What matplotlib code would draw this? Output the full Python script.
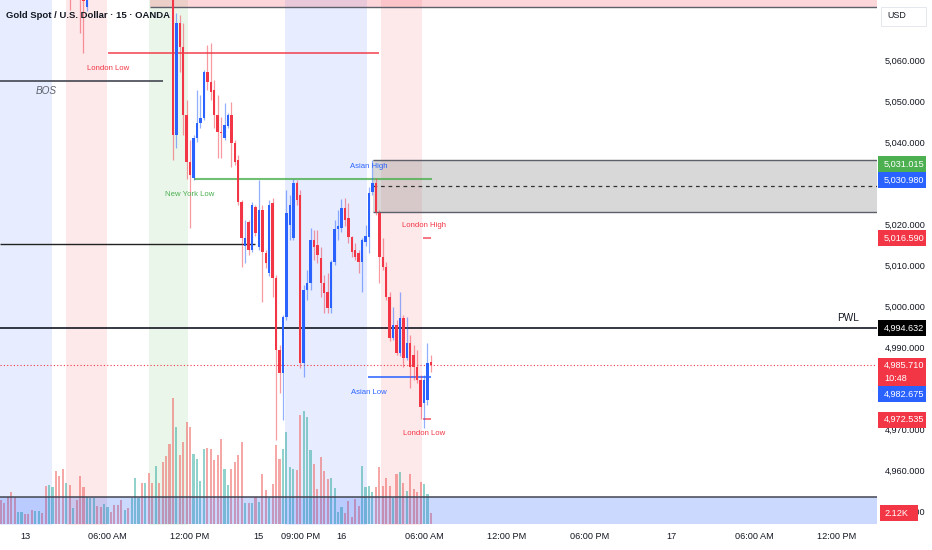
import matplotlib
matplotlib.use("Agg")
import matplotlib.pyplot as plt
import numpy as np
from matplotlib.patches import Rectangle
from matplotlib.transforms import blended_transform_factory

plt.rcParams['font.family'] = ['Liberation Sans', 'DejaVu Sans']

# Données (XAU/USD, 15 min, barres 0..125)
opens = [
    5088, 5086, 5085, 5083, 5082, 5080, 5083, 5084, 5082, 5081,
    5080, 5083, 5085, 5083, 5080, 5084, 5086, 5081, 5078, 5077,
    5080, 5076, 5078, 5077, 5075.5, 5072.9, 5079, 5082, 5084, 5083,
    5082, 5084, 5087, 5085, 5083, 5081, 5079, 5083, 5081, 5085,
    5091, 5092, 5088, 5094, 5090, 5087, 5094, 5091, 5088, 5084,
    5079, 5041.7, 5069.0, 5063.2, 5046.6, 5035.1, 5031.2, 5041.0, 5044.6, 5045.9,
    5057.1, 5054.6, 5052.7, 5046.6, 5042.4, 5041.0, 5043.9, 5046.6, 5039.8, 5035.6,
    5025.4, 5014.6, 5020.5, 5013.6, 5024.1, 5014.4, 5023.4, 5012.9, 5008.0, 5025.1,
    5006.8, 4989.3, 4983.7, 4997.3, 5019.8, 5016.6, 5030.0, 5027.1, 4986.1, 5003.9,
    5005.6, 5016.1, 5014.9, 5011.7, 5005.6, 5003.4, 4999.5, 5010.7, 5018.8, 5019.0,
    5023.9, 5021.5, 5016.8, 5013.6, 5012.9, 5010.7, 5015.6, 5016.8, 5027.8, 5030.0,
    5022.7, 5011.9, 5009.5, 5002.2, 4992.2, 4995.4, 4988.5, 4997.1, 4987.3, 4991.0,
    4988.0, 4985.1, 4982.0, 4976.3, 4977.1, 4986.3]
highs = [
    5091, 5089, 5087, 5086, 5085, 5084, 5086, 5086, 5085, 5084,
    5084, 5086, 5087, 5086, 5085, 5088, 5088, 5083, 5081, 5082,
    5082, 5080, 5080, 5079, 5077, 5081, 5083, 5085, 5087, 5086,
    5085, 5088, 5089, 5087, 5085, 5083, 5084, 5085, 5086, 5092,
    5094, 5093, 5095, 5096, 5092, 5095, 5096, 5093, 5090, 5086,
    5081, 5071.5, 5071.0, 5069.0, 5050.2, 5040.5, 5041.7, 5052.7, 5051.5, 5057.6,
    5063.7, 5064.1, 5055.1, 5051.5, 5046.1, 5049.5, 5047.1, 5049.7, 5040.5, 5036.8,
    5025.9, 5021.0, 5021.0, 5025.4, 5024.6, 5030.7, 5024.6, 5013.6, 5025.9, 5026.3,
    5007.6, 4990.5, 4997.8, 5028.3, 5027.1, 5030.98, 5030.7, 5028.3, 5005.1, 5008.8,
    5019.0, 5018.5, 5018.5, 5014.4, 5007.6, 5008.0, 5011.2, 5021.0, 5023.4, 5026.1,
    5026.3, 5025.1, 5017.1, 5015.4, 5013.6, 5016.6, 5019.8, 5029.0, 5035.6, 5031.2,
    5023.4, 5016.6, 5010.7, 5003.4, 4999.8, 4996.6, 5003.4, 4997.8, 4997.3, 4992.9,
    4990.5, 4989.3, 4983.2, 4983.2, 4991.0, 4988.0]
lows = [
    5084, 5083, 5081, 5080, 5079, 5079, 5081, 5081, 5080, 5079,
    5079, 5081, 5082, 5079, 5079, 5082, 5080, 5077, 5076, 5076,
    5072.2, 5075.5, 5076, 5066.6, 5061.7, 5072, 5077, 5080, 5082, 5081,
    5080, 5083, 5084, 5082, 5080, 5078, 5078, 5080, 5080, 5084,
    5088, 5087, 5087, 5089, 5086, 5086, 5090, 5086, 5082, 5077,
    5035.6, 5038.5, 5057.1, 5041.7, 5031.0, 5019.0, 5030.7, 5040.0, 5043.4, 5045.4,
    5052.7, 5050.2, 5043.4, 5036.1, 5036.1, 5040.5, 5043.4, 5033.9, 5034.4, 5024.6,
    5009.5, 5010.5, 5012.4, 5013.2, 5017.1, 5013.6, 5001.0, 5009.3, 5007.3, 5002.2,
    4967.3, 4978.8, 4972.2, 4996.6, 5016.1, 5016.1, 5024.6, 4984.9, 4982.7, 5001.5,
    5003.9, 5011.2, 5010.5, 5002.2, 4998.3, 4998.3, 4998.3, 5010.0, 5016.1, 5018.0,
    5019.5, 5015.4, 5011.9, 5011.2, 5008.0, 5003.4, 5014.6, 5012.9, 5027.1, 5022.2,
    5005.6, 5008.8, 5001.5, 4991.5, 4991.7, 4988.0, 4987.8, 4985.1, 4986.8, 4980.0,
    4982.0, 4981.2, 4972.5, 4970.2, 4975.9, 4983.9]
closes = [
    5086, 5085, 5083, 5082, 5080, 5083, 5084, 5082, 5081, 5080,
    5083, 5085, 5083, 5080, 5084, 5086, 5081, 5078, 5077, 5080,
    5076, 5078, 5077, 5075.5, 5074.5, 5079, 5082, 5084, 5083, 5082,
    5084, 5087, 5085, 5083, 5081, 5079, 5083, 5081, 5085, 5091,
    5092, 5088, 5094, 5090, 5087, 5094, 5091, 5088, 5084, 5079,
    5041.7, 5069.0, 5063.2, 5046.6, 5035.1, 5031.9, 5041.0, 5044.6, 5045.9, 5057.1,
    5054.6, 5052.2, 5046.6, 5042.4, 5042.2, 5044.1, 5046.6, 5039.8, 5035.1, 5025.4,
    5016.6, 5016.6, 5013.6, 5024.6, 5017.8, 5023.4, 5013.2, 5010.5, 5024.6, 5006.8,
    4989.3, 4983.7, 4997.3, 5022.7, 5024.6, 5030.0, 5025.9, 4986.1, 5003.9, 5005.6,
    5016.1, 5014.4, 5012.4, 5005.6, 5003.2, 4999.5, 5010.7, 5018.8, 5019.5, 5023.9,
    5021.0, 5016.8, 5013.2, 5011.9, 5010.7, 5016.1, 5017.1, 5027.6, 5030.0, 5022.9,
    5011.9, 5009.5, 5002.2, 4992.2, 4995.4, 4988.5, 4997.1, 4987.3, 4991.0, 4985.1,
    4985.1, 4982.0, 4975.4, 4982.0, 4986.1, 4985.71]
volumes_k = [
    4.6, 4.0, 5.2, 6.2, 5.2, 2.3, 2.3, 1.9, 1.9, 2.7,
    2.5, 2.5, 2.1, 7.3, 7.5, 7.1, 10.2, 9.2, 10.6, 7.9,
    7.5, 3.1, 4.6, 9.2, 7.1, 5.2, 5.0, 5.0, 3.5, 3.3,
    3.9, 3.3, 2.3, 3.7, 3.7, 4.6, 2.7, 3.1, 5.0, 8.9,
    5.0, 7.9, 7.9, 9.8, 7.9, 11.2, 7.9, 11.9, 13.1, 15.4,
    24.3, 18.7, 13.3, 15.8, 19.7, 18.7, 13.5, 12.5, 8.3, 14.5,
    14.6, 14.5, 12.3, 13.3, 16.4, 10.6, 7.5, 10.6, 11.9, 13.3,
    15.8, 4.0, 4.0, 4.0, 5.2, 4.2, 9.6, 6.6, 5.0, 7.7,
    15.2, 12.5, 14.5, 17.7, 11.0, 10.6, 10.4, 21.0, 21.8, 20.6,
    14.3, 11.6, 6.7, 12.9, 10.2, 8.7, 8.9, 6.9, 2.3, 3.3,
    2.1, 4.4, 1.3, 4.8, 3.5, 11.2, 7.1, 7.3, 6.2, 7.1,
    11.0, 7.3, 8.9, 7.3, 5.0, 9.6, 10.0, 7.9, 6.4, 9.6,
    6.7, 6.2, 8.1, 7.7, 5.8, 2.12]

# Axe du temps (index de barre) et libellés
tick_bars = [7, 31, 55, 75, 87, 99, 123, 147, 171, 195, 219, 243]
tick_labels = ["13", "06:00 AM", "12:00 PM", "15", "09:00 PM", "16", "06:00 AM",
               "12:00 PM", "06:00 PM", "17", "06:00 AM", "12:00 PM"]
# 5,030 et 4,980 sont cachés sous les étiquettes de prix
price_ticks = [4950, 4960, 4970, 4990, 5000, 5010, 5020, 5040, 5050, 5060]

# Sessions (début, fin en barres, couleur)
sessions = [(-0.5, 14.8, '#2962ff'), (18.9, 30.8, '#f23645'), (43.0, 54.4, '#4caf50'),
            (82.6, 106.4, '#2962ff'), (110.5, 122.4, '#f23645')]

# Niveaux
london_low_1 = 5061.7
bos_level = 5054.9
level_left = 5015.0
ny_low = 5031.015
asian_high = 5030.980
london_high = 5016.590
pwl = 4994.632
last_price = 4985.710
asian_low = 4982.675
london_low_2 = 4972.535
zone_top, zone_bot = 5035.6, 5022.9
top_zone_bot = 5073.0
vol_band_top = 5.2
last_volume = "2.12K"
countdown = "10:48"

o = np.array(opens)
h = np.array(highs)
l = np.array(lows)
c = np.array(closes)
v = np.array(volumes_k)
x = np.arange(len(c))
up = c >= o

UP, DN, GR = '#2962ff', '#f23645', '#4caf50'
TXT = '#131722'
FS = 6.6

fig = plt.figure(figsize=(9.32, 5.5), dpi=100)
fig.patch.set_facecolor('white')
ax = fig.add_axes([0, 25/550, 877/932, 525/550])
ax2 = ax.twinx()
ax.set_zorder(2)
ax2.set_zorder(1)
ax.patch.set_visible(False)
ax2.patch.set_facecolor('white')

XMIN, XMAX = -0.262, 254.68
ax.set_xlim(XMIN, XMAX)
ax.set_ylim(4946.58, 5074.63)
ax2.set_ylim(-0.19, 100.96)

# Sessions + volume (pane du bas)
for a, b, col in sessions:
    ax2.axvspan(a, b, color=col, alpha=0.11, lw=0, zorder=0)
ax2.bar(x, v, width=0.62, color=np.where(up, '#26a69a', '#ef5350'), alpha=0.5, lw=0, zorder=2)
ax2.axhspan(0, vol_band_top, color='#2962ff', alpha=0.24, lw=0, zorder=3)
ax2.axhline(vol_band_top, color='#434651', lw=1.1, zorder=3)

# Zones
ax.add_patch(Rectangle((43.3, top_zone_bot), 300, 20, facecolor=DN, alpha=0.2, lw=0, zorder=1))
ax.hlines(top_zone_bot, 43.3, 300, color='#5d606b', lw=1, zorder=1)
ax.add_patch(Rectangle((108.1, zone_bot), 300, zone_top - zone_bot, facecolor='#808080', alpha=0.3, lw=0, zorder=1))
ax.hlines([zone_bot, zone_top], 108.1, 300, color='#5d606b', lw=1, zorder=1)
ax.hlines((zone_top + zone_bot) / 2, 108.1, 300, color='#333333', lw=0.9, linestyles=(0, (3, 3)), zorder=1)

# Lignes
ax.hlines(london_low_1, 31.1, 110.0, color=DN, alpha=0.75, lw=1.4, zorder=2)
ax.hlines(bos_level, XMIN, 47.1, color='#434651', lw=1.2, zorder=2)
ax.hlines(level_left, XMIN, 73.9, color='#222222', lw=1.0, zorder=2)
ax.hlines(ny_low, 56.2, 125.3, color=GR, alpha=0.8, lw=1.5, zorder=2)
ax.hlines(asian_low, 106.7, 125.0, color=UP, alpha=0.8, lw=1.4, zorder=2)
ax.hlines([london_high, london_low_2], 122.7, 125.0, color=DN, alpha=0.8, lw=1.2, zorder=2)
ax.axhline(pwl, color=TXT, lw=1.2, zorder=2)
ax.axhline(last_price, color=DN, lw=0.8, ls=(0, (1, 2)), zorder=2)

# Bougies
cols = np.where(up, UP, DN)
ax.vlines(x, l, h, colors=cols, lw=0.9, alpha=0.5, zorder=3)
ax.bar(x, np.maximum(np.abs(c - o), 0.35), bottom=np.minimum(o, c), width=0.7,
       color=cols, lw=0, zorder=4)

# Étiquettes dans le graphique
ax.text(31.1, 5058.0, "London Low", color=DN, fontsize=5.6, ha='center', va='center')
ax.text(13.3, 5052.5, "BOS", color='#5d606b', fontsize=7.2, style='italic', ha='center', va='center')
ax.text(55.0, 5027.3, "New York Low", color=GR, fontsize=5.6, ha='center', va='center')
ax.text(106.9, 5034.1, "Asian High", color=UP, fontsize=5.6, ha='center', va='center')
ax.text(122.9, 5019.7, "London High", color=DN, fontsize=5.6, ha='center', va='center')
ax.text(106.9, 4979.0, "Asian Low", color=UP, fontsize=5.6, ha='center', va='center')
ax.text(123.0, 4968.8, "London Low", color=DN, fontsize=5.6, ha='center', va='center')
ax.text(246.3, 4997.1, "PWL", color=TXT, fontsize=7.2, ha='center', va='center')

# Axes
for a in (ax, ax2):
    for s in a.spines.values():
        s.set_visible(False)
ax2.yaxis.set_visible(False)
ax.yaxis.tick_right()
ax.set_yticks(price_ticks)
ax.set_yticklabels([f"{p:,.3f}" for p in price_ticks])
ax.set_xticks(tick_bars)
ax.set_xticklabels(tick_labels)
ax.tick_params(axis='x', length=0, pad=5, labelsize=FS, colors=TXT)
ax.tick_params(axis='y', length=0, pad=5.8, labelsize=FS, colors=TXT)

# Étiquettes de prix à droite
bt = blended_transform_factory(ax.transAxes, ax.transData)
PX = 4.1  # pixels par unité de prix


def tag(value, text, color, shift_px=0, lines=1):
    # shift_px > 0 : étiquette déplacée vers le haut
    yc = value + shift_px / PX
    hgt = 16 / PX
    top = yc + hgt / 2
    box_h = hgt + (lines - 1) * 13 / PX
    ax.add_patch(Rectangle((878 / 877, top - box_h), 48 / 877, box_h, transform=bt,
                           facecolor=color, lw=0, clip_on=False, zorder=6))
    ax.text(884 / 877, yc, text, transform=bt, color='white', fontsize=FS,
            va='center', ha='left', clip_on=False, zorder=7)


tag(ny_low, f"{ny_low:,.3f}", GR, shift_px=15)
tag(asian_high, f"{asian_high:,.3f}", UP, shift_px=-1)
tag(london_high, f"{london_high:,.3f}", DN)
tag(pwl, f"{pwl:,.3f}", '#000000')
tag(last_price, f"{last_price:,.3f}", DN, shift_px=-1, lines=2)
ax.text(884 / 877, last_price - 14 / PX, countdown, transform=bt, color='white',
        fontsize=FS, va='center', ha='left', clip_on=False, zorder=7)
tag(asian_low, f"{asian_low:,.3f}", UP, shift_px=-17)
tag(london_low_2, f"{london_low_2:,.3f}", DN, shift_px=-1)

# Étiquette du volume
bv = blended_transform_factory(ax.transAxes, ax2.transData)
vol_y = float(last_volume.rstrip('K'))
ax.add_patch(Rectangle((880 / 877, vol_y - 8 / 5.19), 38 / 877, 16 / 5.19, transform=bv,
                       facecolor=DN, lw=0, clip_on=False, zorder=6))
ax.text(884 / 877, vol_y, last_volume, transform=bv, color='white', fontsize=FS,
        va='center', ha='left', clip_on=False, zorder=7)

# USD et titre
fig.patches.append(Rectangle((881 / 932, 1 - 26 / 550), 45 / 932, 19 / 550, transform=fig.transFigure,
                             facecolor='white', edgecolor='#e0e3eb', lw=0.6, zorder=10))
fig.text(887 / 932, 1 - 16 / 550, "USD", color=TXT, fontsize=6.4, va='center', ha='left', zorder=11)
fig.text(6 / 932, 1 - 15 / 550, "Gold Spot / U.S. Dollar · 15 · OANDA", color=TXT,
         fontsize=6.8, fontweight='bold', va='center', ha='left', zorder=11)

fig.savefig("out.png", dpi=100, facecolor='white')
